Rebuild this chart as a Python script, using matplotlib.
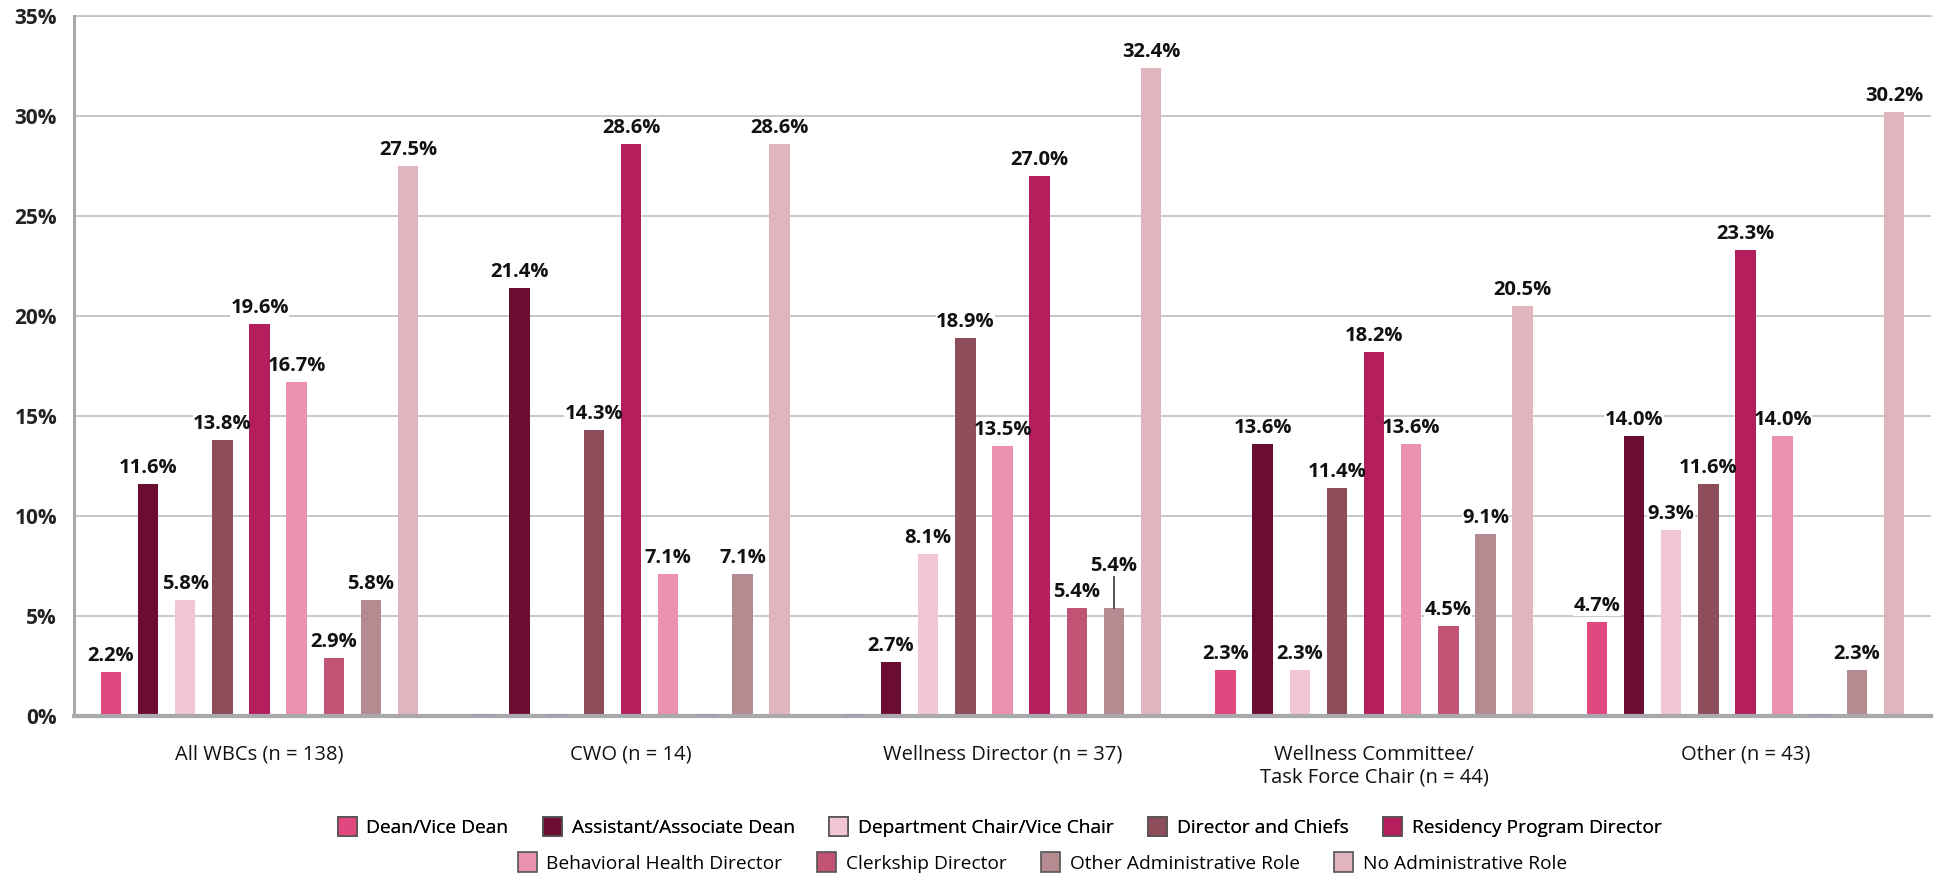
import matplotlib
matplotlib.use("Agg")
import matplotlib.pyplot as plt
from matplotlib.patches import Patch
import numpy as np

plt.rcParams['font.family'] = ['Open Sans', 'DejaVu Sans']

groups = ["All WBCs (n = 138)", "CWO (n = 14)", "Wellness Director (n = 37)",
          "Wellness Committee/\nTask Force Chair (n = 44)", "Other (n = 43)"]
series = ["Dean/Vice Dean", "Assistant/Associate Dean", "Department Chair/Vice Chair",
          "Director and Chiefs", "Residency Program Director", "Behavioral Health Director",
          "Clerkship Director", "Other Administrative Role", "No Administrative Role"]
dean = [2.2, 0, 0, 2.3, 4.7]
asst = [11.6, 21.4, 2.7, 13.6, 14.0]
dept = [5.8, 0, 8.1, 2.3, 9.3]
dirc = [13.8, 14.3, 18.9, 11.4, 11.6]
resid = [19.6, 28.6, 27.0, 18.2, 23.3]
behav = [16.7, 7.1, 13.5, 13.6, 14.0]
clerk = [2.9, 0, 5.4, 4.5, 0]
other = [5.8, 7.1, 5.4, 9.1, 2.3]
noadm = [27.5, 28.6, 32.4, 20.5, 30.2]
values = [dean, asst, dept, dirc, resid, behav, clerk, other, noadm]
yticks = [0, 5, 10, 15, 20, 25, 30, 35]

colors = ['#E0487F', '#6B0C33', '#F2C5D2', '#8E4D5B', '#B41E5D',
          '#EB92AE', '#C15475', '#B58A90', '#E2B4BE']

# slot of each series within each group (Wellness Director shows Behavioral before Residency)
slots = [list(range(9)) for _ in groups]
slots[2] = [0, 1, 2, 3, 5, 4, 6, 7, 8]

fig = plt.figure(figsize=(19.41, 8.74), dpi=100)
ax = fig.add_axes([0.038, 0.181, 0.957, 0.801])

spacing = 0.1
width = 0.055
x = np.arange(len(groups))

txt_kw = dict(ha='center', va='bottom', fontsize=14.5, fontweight='bold')


def put_label(xx, y, s):
    # white box only hides the gridlines (below the bars); text drawn on top
    ax.text(xx, y, s, color='white', zorder=2,
            bbox=dict(facecolor='white', edgecolor='none', pad=0.3), **txt_kw)
    ax.text(xx, y, s, color='#111111', zorder=5, **txt_kw)


for si, (name, vals, col) in enumerate(zip(series, values, colors)):
    xs = [x[g] + (slots[g][si] - 4) * spacing for g in range(len(groups))]
    ax.bar(xs, vals, width=width, color=col, zorder=3, label=name)
    for g, (xx, v) in enumerate(zip(xs, vals)):
        if v == 0:
            ax.hlines(0.05, xx - width / 2, xx + width / 2, color='#9aa0b4', lw=2, zorder=4)
            continue
        if si == 7 and g == 2:
            ax.plot([xx, xx], [v, v + 1.55], color='#444444', lw=1.3, zorder=4)
            put_label(xx, v + 1.6, f"{v:.1f}%")
        else:
            put_label(xx, v + 0.3, f"{v:.1f}%")

ax.set_xlim(-0.5, len(groups) - 0.5)
ax.set_ylim(0, 35)
ax.set_yticks(yticks)
ax.set_yticklabels([f"{t}%" for t in yticks], fontsize=15, fontweight='bold', color='#222222')
ax.set_xticks(x)
ax.set_xticklabels(groups, fontsize=14.5, color='#111111', linespacing=1.2)
ax.tick_params(axis='x', length=0, pad=21)
ax.tick_params(axis='y', length=0, pad=12)

ax.yaxis.grid(True, color='#c4c4c4', lw=1.3, zorder=0)
ax.set_axisbelow(True)
for s in ['top', 'right']:
    ax.spines[s].set_visible(False)
ax.spines['left'].set_color('#a9a9ad')
ax.spines['left'].set_linewidth(2.2)
ax.spines['bottom'].set_color('#a9a9ad')
ax.spines['bottom'].set_linewidth(3)
ax.spines['bottom'].set_zorder(3.5)
ax.axhline(35, color='#c4c4c4', lw=1.3, zorder=0, clip_on=False)

handles = [Patch(facecolor=c, edgecolor='#555555', linewidth=1.2, label=n)
           for c, n in zip(colors, series)]
leg_kw = dict(frameon=False, fontsize=13.8, handlelength=1.0, handleheight=1.2,
              handletextpad=0.5, columnspacing=1.8, borderaxespad=0, borderpad=0)
leg1 = fig.legend(handles=handles[:5], ncol=5, loc='center', bbox_to_anchor=(0.515, 0.054), **leg_kw)
fig.add_artist(leg1)
leg2 = fig.legend(handles=handles[5:], ncol=4, loc='center', bbox_to_anchor=(0.537, 0.013), **leg_kw)

fig.savefig("out.png", dpi=100)
